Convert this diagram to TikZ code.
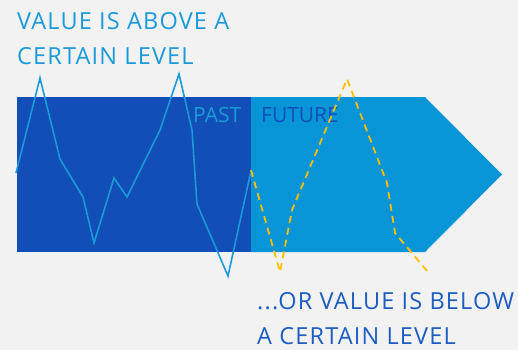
\documentclass[tikz,border=0pt]{standalone}
\usepackage{fontspec}
\setmainfont{Open Sans}
\usetikzlibrary{positioning}

\definecolor{paper}{HTML}{F2F2F2}
\definecolor{pastblue}{HTML}{114EB8}
\definecolor{futblue}{HTML}{0795D8}
\definecolor{lineblue}{HTML}{1A9AD8}
\definecolor{textdark}{HTML}{1D5CC0}
\definecolor{gold}{HTML}{FFC000}

\begin{document}
\begin{tikzpicture}[x=1pt,y=-1pt,
  lbl/.style={anchor=north west,inner sep=0pt,align=left,
    font=\fontsize{23.5}{35}\selectfont\addfontfeature{LetterSpace=5}},
  tag/.style={anchor=north west,inner sep=0pt,font=\fontsize{21}{25}\selectfont},
  val/.style={lineblue,line width=1.6pt,line join=miter},
  fcst/.style={gold,line width=1.8pt,dashed,dash pattern=on 7pt off 5pt}]
  \fill[paper] (0,0) rectangle (518,350);
  \useasboundingbox (0,0) rectangle (518,350);

  % past block and future arrow
  \fill[pastblue] (17,97) rectangle (251,252);
  \fill[futblue] (251,97) -- (425,97) -- (502,174.5) -- (425,252) -- (251,252) -- cycle;

  \node[tag,text=lineblue] (past) at (193,107.5) {PAST};
  \node[tag,text=pastblue] (future) at (261,107.5) {FUTURE};

  % measured values
  \foreach \n/\x/\y in {0/16/173,1/40/78,2/60/159,3/83/197,4/94/243,5/114/178,
      6/127/197,7/160/130,8/179/74,9/192/130,10/197/204,11/228/276,12/251/171}
    \coordinate (v\n) at (\x,\y);
  \draw[val] (v0) \foreach \n in {1,...,12} { -- (v\n) };

  % forecast
  \foreach \n/\x/\y in {0/251/170,1/280/272,2/292/210,3/347/79,4/387/183,
      5/395/233,6/428/272}
    \coordinate (f\n) at (\x,\y);
  \draw[fcst] (f0) \foreach \n in {1,...,6} { -- (f\n) };

  \node[lbl,text=lineblue] (above) at (17,12.5) {VALUE IS ABOVE A\\CERTAIN LEVEL};
  \node[lbl,text=textdark] (below) at (257,292.5) {...OR VALUE IS BELOW\\A CERTAIN LEVEL};
\end{tikzpicture}
\end{document}
